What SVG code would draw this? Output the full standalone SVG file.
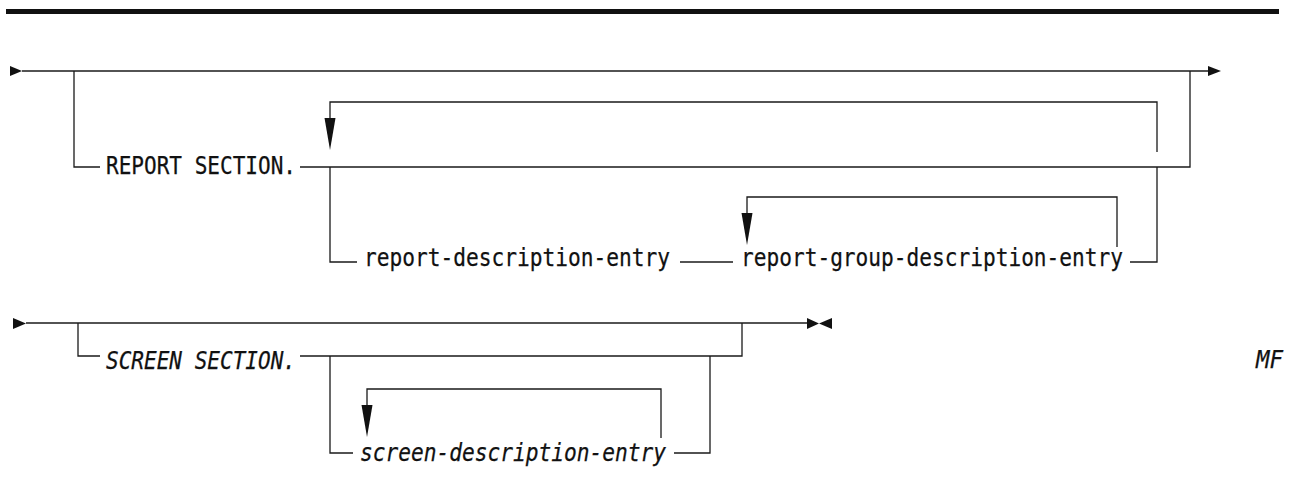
<svg xmlns="http://www.w3.org/2000/svg" width="1289" height="480" viewBox="0 0 1289 480">
  <style>
    .ln { fill: none; stroke: #1a1a1a; stroke-width: 1.3; }
    .ah { fill: #111; stroke: none; }
    .kw { font-family: "DejaVu Sans Mono", "Liberation Mono", monospace; font-size: 24px; fill: #111; stroke: #111; stroke-width: 0.25; }
    .it { font-style: italic; }
  </style>
  <rect width="1289" height="480" fill="#fff"/>
  <!-- heading rule -->
  <rect x="6" y="9" width="1273" height="5" fill="#111"/>

  <g id="connectors">
    <!-- REPORT SECTION syntax -->
    <polygon class="ah" points="10,66 22,71 10,76"/>
    <path class="ln" d="M22 71 H1208"/>
    <polygon class="ah" points="1208,66 1221,71 1208,76"/>
    <path class="ln" d="M74 71 V167 H100"/>
    <path class="ln" d="M300 167 H1190 V71"/>
    <path class="ln" d="M1157 152 V102 H330 V118"/>
    <polygon class="ah" points="324.5,118 335.5,118 330,150"/>
    <path class="ln" d="M330 167 V262 H357"/>
    <path class="ln" d="M680 262 H733"/>
    <path class="ln" d="M1130 262 H1157 V167"/>
    <path class="ln" d="M1117 247 V197 H747 V213"/>
    <polygon class="ah" points="741.5,213 752.5,213 747,245"/>

    <!-- SCREEN SECTION syntax -->
    <polygon class="ah" points="13,318 26,323.5 13,329"/>
    <path class="ln" d="M26 323 H808"/>
    <polygon class="ah" points="807,318 819,323.5 807,329"/>
    <polygon class="ah" points="832,318 819,323.5 832,329"/>
    <path class="ln" d="M78 323 V356 H100"/>
    <path class="ln" d="M300 356 H742 V323"/>
    <path class="ln" d="M330 356 V453 H353"/>
    <path class="ln" d="M674 453 H710 V356"/>
    <path class="ln" d="M661 438 V389 H367 V405"/>
    <polygon class="ah" points="361.5,405 372.5,405 367,437"/>
  </g>

  <g id="report-section">
    <text class="kw" x="106" y="174" textLength="190" lengthAdjust="spacingAndGlyphs">REPORT SECTION.</text>
  </g>
  <g id="report-description-entry">
    <text class="kw" x="364" y="266" textLength="306" lengthAdjust="spacingAndGlyphs">report-description-entry</text>
  </g>
  <g id="report-group-description-entry">
    <text class="kw" x="741" y="266" textLength="382" lengthAdjust="spacingAndGlyphs">report-group-description-entry</text>
  </g>
  <g id="screen-section">
    <text class="kw it" x="106" y="369" textLength="190" lengthAdjust="spacingAndGlyphs">SCREEN SECTION.</text>
  </g>
  <g id="screen-description-entry">
    <text class="kw it" x="360" y="461" textLength="306" lengthAdjust="spacingAndGlyphs">screen-description-entry</text>
  </g>
  <g id="mf-note">
    <text class="kw it" x="1256" y="368" textLength="27" lengthAdjust="spacingAndGlyphs">MF</text>
  </g>
</svg>
